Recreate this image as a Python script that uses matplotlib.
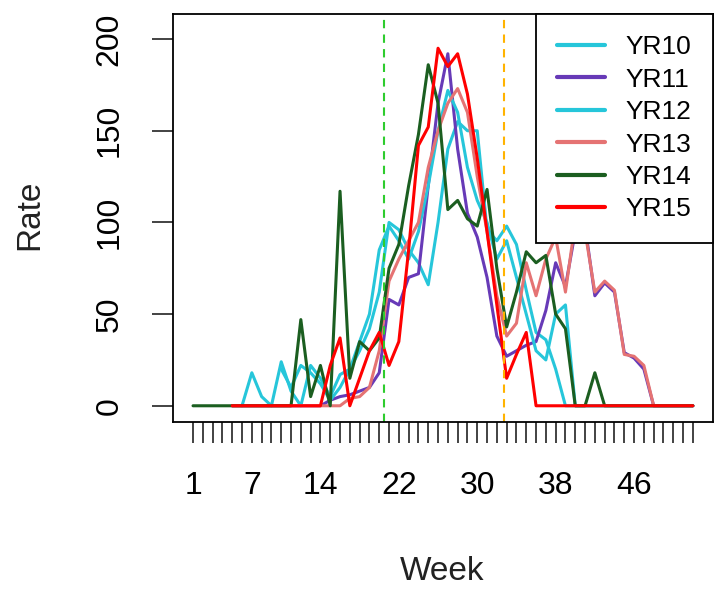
import numpy as np
import matplotlib.pyplot as plt

plt.rcParams['font.family'] = ['Liberation Sans', 'DejaVu Sans']

weeks = np.arange(1, 53)
nan = np.nan

# weekly rates per season (NaN = no data yet)
yr10 = [nan, nan, nan, nan, nan, 0, 18, 5, 0, 24, 8, 0, 22, 15, 5, 17, 20, 30, 42, 62,
        100, 96, 85, 78, 66, 100, 140, 155, 150, 150, 96, 90, 98, 88, 63, 40, 36, 20, 0, 0,
        0, 0, 0, 0, 0, 0, 0, 0, 0, 0, 0, 0]
yr11 = [nan, nan, nan, nan, 0, 0, 0, 0, 0, 0, 0, 0, 0, 0, 3, 5, 6, 8, 10, 18,
        58, 55, 70, 72, 120, 165, 192, 140, 105, 92, 70, 38, 27, 30, 33, 35, 52, 78, 65, 95,
        98, 60, 67, 62, 29, 26, 20, 0, 0, 0, 0, 0]
yr12 = [nan, nan, nan, nan, nan, nan, nan, nan, nan, 20, 10, 22, 18, 12, 3, 10, 20, 35, 50, 85,
        98, 90, 80, 95, 120, 150, 172, 160, 130, 112, 100, 80, 90, 70, 50, 30, 25, 50, 55, 0,
        0, 0, 0, 0, 0, 0, 0, 0, 0, 0, 0, 0]
yr13 = [nan, nan, nan, nan, 0, 0, 0, 0, 0, 0, 0, 0, 0, 0, 0, 0, 4, 5, 10, 30,
        68, 80, 90, 100, 130, 150, 165, 173, 160, 125, 95, 60, 38, 45, 78, 60, 80, 92, 62, 100,
        95, 62, 68, 63, 28, 27, 22, 0, 0, 0, 0, 0]
yr14 = [0, 0, 0, 0, 0, 0, 0, 0, 0, 0, 0, 47, 5, 22, 0, 117, 15, 35, 30, 37,
        75, 88, 120, 148, 186, 165, 107, 112, 102, 98, 118, 75, 43, 62, 84, 78, 82, 50, 42, 0,
        0, 18, 0, 0, 0, 0, 0, 0, 0, 0, 0, 0]
yr15 = [nan, nan, nan, nan, 0, 0, 0, 0, 0, 0, 0, 0, 0, 0, 22, 37, 0, 15, 30, 40,
        22, 35, 85, 142, 152, 195, 185, 192, 170, 135, 95, 55, 15, 28, 40, 0, 0, 0, 0, 0,
        0, 0, 0, 0, 0, 0, 0, 0, 0, 0, 0, 0]

series = [yr10, yr11, yr12, yr13, yr14, yr15]
names = ['YR10', 'YR11', 'YR12', 'YR13', 'YR14', 'YR15']
colors = ['#26C6DA', '#673AB7', '#26C6DA', '#E57373', '#1B5E20', '#FF0000']

tick_weeks = [1, 7, 14, 22, 30, 38, 46]
marker_weeks = [20.5, 32.7]
marker_colors = ['#2ECC2E', '#FFB300']

fig = plt.figure(figsize=(7.15, 5.89), dpi=100)
ax = fig.add_axes([0.242, 0.284, 0.755, 0.692])

for vals, name, col in zip(series, names, colors):
    ax.plot(weeks, vals, color=col, lw=2.2, label=name,
            solid_capstyle='round', solid_joinstyle='round')

for xv, col in zip(marker_weeks, marker_colors):
    ax.axvline(xv, color=col, lw=1.5, ls=(0, (4, 3)))

ax.set_xlim(1 - 0.04 * 51, 52 + 0.04 * 51)
ax.set_ylim(-8.7, 213.6)

ax.set_xticks(weeks)
ax.set_xticklabels([str(w) if w in tick_weeks else '' for w in weeks])
ax.set_yticks([0, 50, 100, 150, 200])
ax.tick_params(axis='both', length=15, width=1.2, labelsize=23, color='#222222')
ax.tick_params(axis='x', pad=20.5)
ax.tick_params(axis='y', pad=20, labelrotation=90)
for lab in ax.get_yticklabels():
    lab.set_va('center')
for sp in ax.spines.values():
    sp.set_linewidth(1.3)

fig.text(0.619, 1 - 572 / 589, 'Week', ha='center', va='center', fontsize=24, color='#222222')
fig.text(30 / 715, 1 - 215 / 589, 'Rate', ha='center', va='center', rotation=90,
         fontsize=24, color='#222222')

leg = ax.legend(loc='upper right', fontsize=19, frameon=True, fancybox=False,
                borderaxespad=0, handlelength=1.8, handletextpad=0.8,
                labelspacing=0.32, borderpad=0.8)
leg.get_frame().set_edgecolor('black')
leg.get_frame().set_linewidth(1.3)
leg.get_frame().set_alpha(1)
leg.set_zorder(5)
for h in leg.get_lines():
    h.set_linewidth(3)

fig.savefig('out.png', dpi=100)
